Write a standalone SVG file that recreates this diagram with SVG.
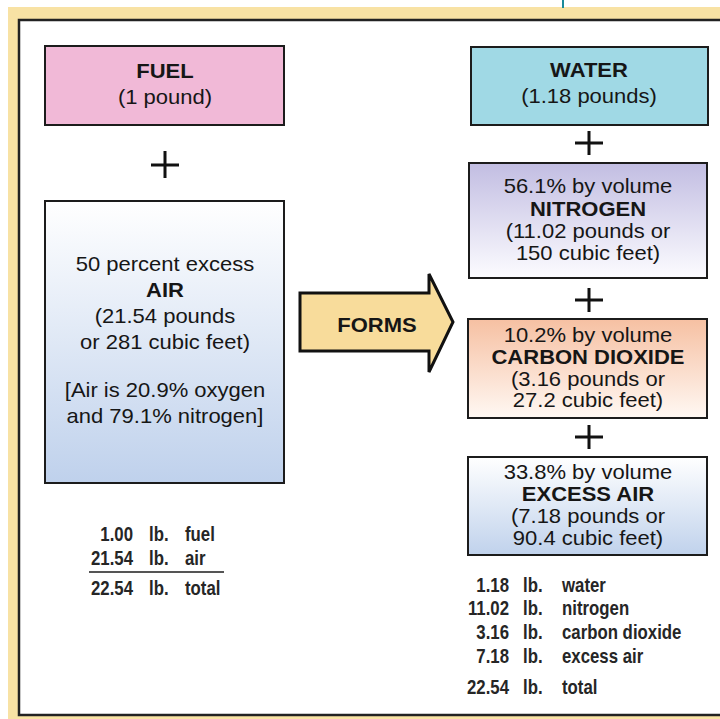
<svg xmlns="http://www.w3.org/2000/svg" width="720" height="719" viewBox="0 0 720 719">
<defs>
<style>
.t{font-family:"Liberation Sans",Arial,sans-serif;font-size:20px;fill:#161616;text-anchor:middle}
.b{font-weight:bold}
.box{stroke:#1c1c1c;stroke-width:2}
.tot{font-family:"Liberation Sans",Arial,sans-serif;font-size:20px;font-weight:bold;fill:#262626}
.plus{stroke:#111;stroke-width:3;fill:none}
</style>
<linearGradient id="gAir" x1="0" y1="0" x2="0" y2="1"><stop offset="0" stop-color="#ffffff"/><stop offset="1" stop-color="#bfd1ec"/></linearGradient>
<linearGradient id="gN" x1="0" y1="0" x2="0" y2="1"><stop offset="0" stop-color="#c2bde2"/><stop offset="1" stop-color="#fcfcff"/></linearGradient>
<linearGradient id="gC" x1="0" y1="0" x2="0" y2="1"><stop offset="0" stop-color="#f6c0a2"/><stop offset="1" stop-color="#fff8f3"/></linearGradient>
<linearGradient id="gE" x1="0" y1="0" x2="0" y2="1"><stop offset="0" stop-color="#ffffff"/><stop offset="1" stop-color="#c0d2ec"/></linearGradient>
</defs>
<rect x="0" y="0" width="720" height="719" fill="#ffffff"/>
<rect x="8" y="7" width="712" height="712" fill="#f8e2a4"/>
<line x1="563" y1="0" x2="563" y2="8" stroke="#1a8a9a" stroke-width="2"/>
<rect x="19" y="20" width="710" height="695" fill="#ffffff" stroke="#222" stroke-width="2.5"/>

<g id="fuel">
<rect class="box" x="45" y="46" width="239" height="79" fill="#f1b9d7"/>
<g transform="translate(165,0) scale(1.1,1)">
<text class="t b" x="0" y="78">FUEL</text>
<text class="t" x="0" y="104">(1 pound)</text>
</g>
</g>

<g id="air">
<rect class="box" x="45" y="201" width="239" height="282" fill="url(#gAir)"/>
<g transform="translate(165,0) scale(1.1,1)">
<text class="t" x="0" y="271">50 percent excess</text>
<text class="t b" x="0" y="297">AIR</text>
<text class="t" x="0" y="323">(21.54 pounds</text>
<text class="t" x="0" y="349">or 281 cubic feet)</text>
<text class="t" x="0" y="397">[Air is 20.9% oxygen</text>
<text class="t" x="0" y="423">and 79.1% nitrogen]</text>
</g>
</g>

<g id="water">
<rect class="box" x="471" y="47" width="237" height="78" fill="#a0d9e5"/>
<g transform="translate(589,0) scale(1.1,1)">
<text class="t b" x="0" y="77">WATER</text>
<text class="t" x="0" y="103">(1.18 pounds)</text>
</g>
</g>

<g id="nitrogen">
<rect class="box" x="469" y="163" width="238" height="115" fill="url(#gN)"/>
<g transform="translate(588,0) scale(1.1,1)">
<text class="t" x="0" y="193">56.1% by volume</text>
<text class="t b" x="0" y="216">NITROGEN</text>
<text class="t" x="0" y="238">(11.02 pounds or</text>
<text class="t" x="0" y="260">150 cubic feet)</text>
</g>
</g>

<g id="co2">
<rect class="box" x="468" y="319" width="239" height="99" fill="url(#gC)"/>
<g transform="translate(588,0) scale(1.1,1)">
<text class="t" x="0" y="342">10.2% by volume</text>
<text class="t b" x="0" y="364">CARBON DIOXIDE</text>
<text class="t" x="0" y="386">(3.16 pounds or</text>
<text class="t" x="0" y="407">27.2 cubic feet)</text>
</g>
</g>

<g id="excess-air">
<rect class="box" x="468" y="457" width="239" height="98" fill="url(#gE)"/>
<g transform="translate(588,0) scale(1.1,1)">
<text class="t" x="0" y="479">33.8% by volume</text>
<text class="t b" x="0" y="501">EXCESS AIR</text>
<text class="t" x="0" y="523">(7.18 pounds or</text>
<text class="t" x="0" y="545">90.4 cubic feet)</text>
</g>
</g>

<g id="connectors">
<g id="forms-arrow">
<path d="M300,293 L429,293 L429,274 L453,322 L429,372 L429,351 L300,351 Z" fill="#f8dc9b" stroke="#111" stroke-width="3" stroke-linejoin="miter"/>
<g transform="translate(377,0) scale(1.1,1)">
<text class="t b" x="0" y="332">FORMS</text>
</g>
</g>
<path class="plus" d="M151,165 H179 M165,151 V178"/>
<path class="plus" d="M575,143 H603 M589,131 V155"/>
<path class="plus" d="M575,300 H603 M589,288 V312"/>
<path class="plus" d="M575,437 H603 M589,425 V449"/>
</g>

<g id="totals-left">
<g transform="translate(133,0) scale(0.84,1)">
<text class="tot" x="0" y="541" text-anchor="end">1.00</text>
<text class="tot" x="0" y="565" text-anchor="end">21.54</text>
<text class="tot" x="0" y="595" text-anchor="end">22.54</text>
</g>
<g transform="translate(149,0) scale(0.84,1)">
<text class="tot" x="0" y="541">lb.</text>
<text class="tot" x="0" y="565">lb.</text>
<text class="tot" x="0" y="595">lb.</text>
</g>
<g transform="translate(185,0) scale(0.84,1)">
<text class="tot" x="0" y="541">fuel</text>
<text class="tot" x="0" y="565">air</text>
<text class="tot" x="0" y="595">total</text>
</g>
<line x1="89" y1="572" x2="224" y2="572" stroke="#555" stroke-width="2"/>
</g>

<g id="totals-right">
<g transform="translate(509,0) scale(0.84,1)">
<text class="tot" x="0" y="592" text-anchor="end">1.18</text>
<text class="tot" x="0" y="615" text-anchor="end">11.02</text>
<text class="tot" x="0" y="639" text-anchor="end">3.16</text>
<text class="tot" x="0" y="663" text-anchor="end">7.18</text>
<text class="tot" x="0" y="694" text-anchor="end">22.54</text>
</g>
<g transform="translate(523,0) scale(0.84,1)">
<text class="tot" x="0" y="592">lb.</text>
<text class="tot" x="0" y="615">lb.</text>
<text class="tot" x="0" y="639">lb.</text>
<text class="tot" x="0" y="663">lb.</text>
<text class="tot" x="0" y="694">lb.</text>
</g>
<g transform="translate(562,0) scale(0.84,1)">
<text class="tot" x="0" y="592">water</text>
<text class="tot" x="0" y="615">nitrogen</text>
<text class="tot" x="0" y="639">carbon dioxide</text>
<text class="tot" x="0" y="663">excess air</text>
<text class="tot" x="0" y="694">total</text>
</g>
</g>
</svg>
